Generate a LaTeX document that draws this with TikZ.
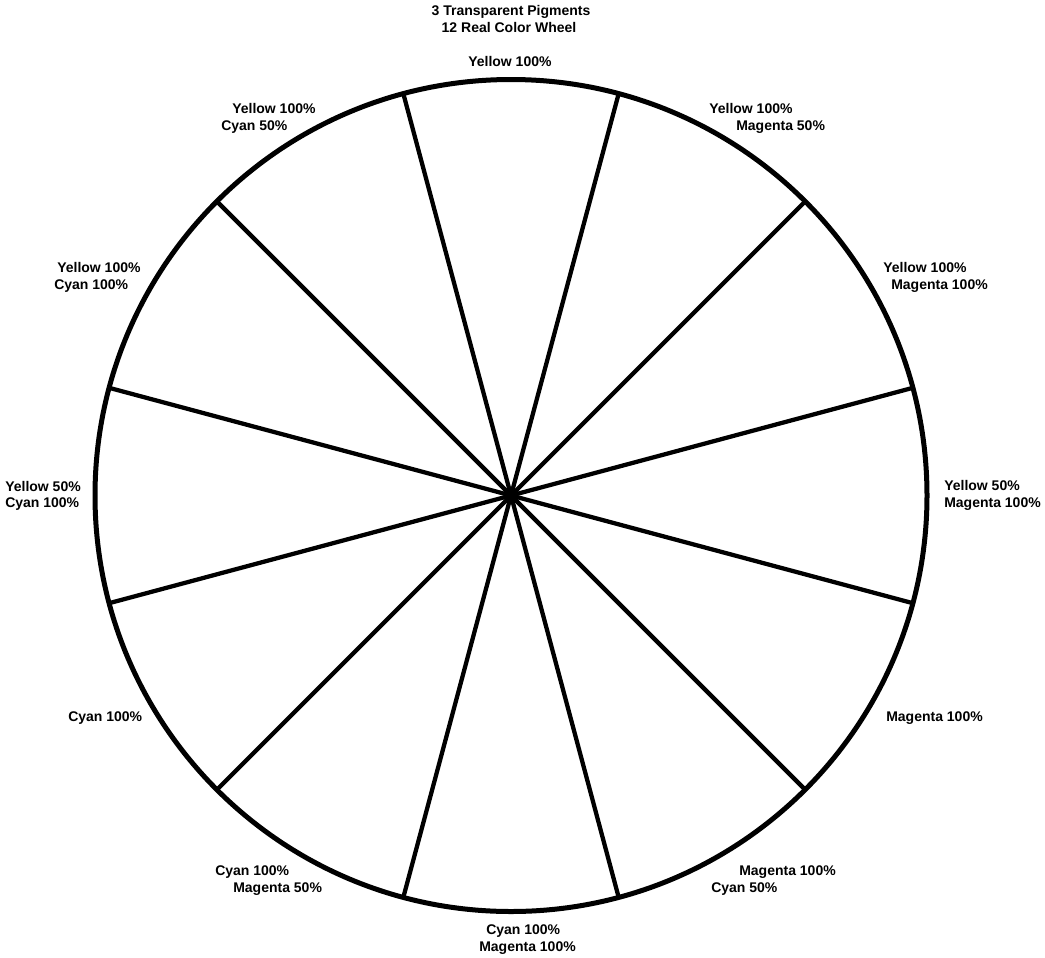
\documentclass[tikz,border=0pt]{standalone}
\usepackage{fontspec}
\setmainfont{Liberation Sans}

\begin{document}
\begin{tikzpicture}[x=0.75pt,y=-0.75pt,
  lbl/.style={anchor=base west,inner sep=0pt,font=\fontsize{10.5}{12.75}\selectfont\bfseries},
  ttl/.style={anchor=base,inner sep=0pt,font=\fontsize{10.5}{12.75}\selectfont\bfseries},
  rim/.style={line width=3.75pt},
  spoke/.style={line width=3.2pt}]
\useasboundingbox (0,0) rectangle (1045,957);
\coordinate (c) at (511,495.5);
% wheel
\draw[rim] (c) circle (416);
\foreach \a [count=\i] in {15,45,...,345}
  \path (c) ++(\a:416) coordinate (e\i);
\foreach \i in {1,...,12}
  \draw[spoke] (c) -- (e\i);
% title
\node[ttl] (t1) at (511,15) {3 Transparent Pigments};
\node[ttl] (t2) at (509,32) {12 Real Color Wheel};
% labels
\node[lbl] (y1) at (468,66) {Yellow 100\%};
\node[lbl] (ym1) at (709,113) {Yellow 100\%};
\node[lbl] (ym2) at (736,130) {Magenta 50\%};
\node[lbl] (yn1) at (883,272) {Yellow 100\%};
\node[lbl] (yn2) at (891,289) {Magenta 100\%};
\node[lbl] (yh1) at (944,490) {Yellow 50\%};
\node[lbl] (yh2) at (944,507) {Magenta 100\%};
\node[lbl] (m1) at (886,721) {Magenta 100\%};
\node[lbl] (mc1) at (739,875) {Magenta 100\%};
\node[lbl] (mc2) at (711,892) {Cyan 50\%};
\node[lbl] (cm1) at (486,934) {Cyan 100\%};
\node[lbl] (cm2) at (479,951) {Magenta 100\%};
\node[lbl] (ch1) at (215,875) {Cyan 100\%};
\node[lbl] (ch2) at (233,892) {Magenta 50\%};
\node[lbl] (c1) at (68,721) {Cyan 100\%};
\node[lbl] (yc1) at (5,491) {Yellow 50\%};
\node[lbl] (yc2) at (5,507) {Cyan 100\%};
\node[lbl] (yk1) at (57,272) {Yellow 100\%};
\node[lbl] (yk2) at (54,289) {Cyan 100\%};
\node[lbl] (yd1) at (232,113) {Yellow 100\%};
\node[lbl] (yd2) at (221,130) {Cyan 50\%};
\end{tikzpicture}
\end{document}
